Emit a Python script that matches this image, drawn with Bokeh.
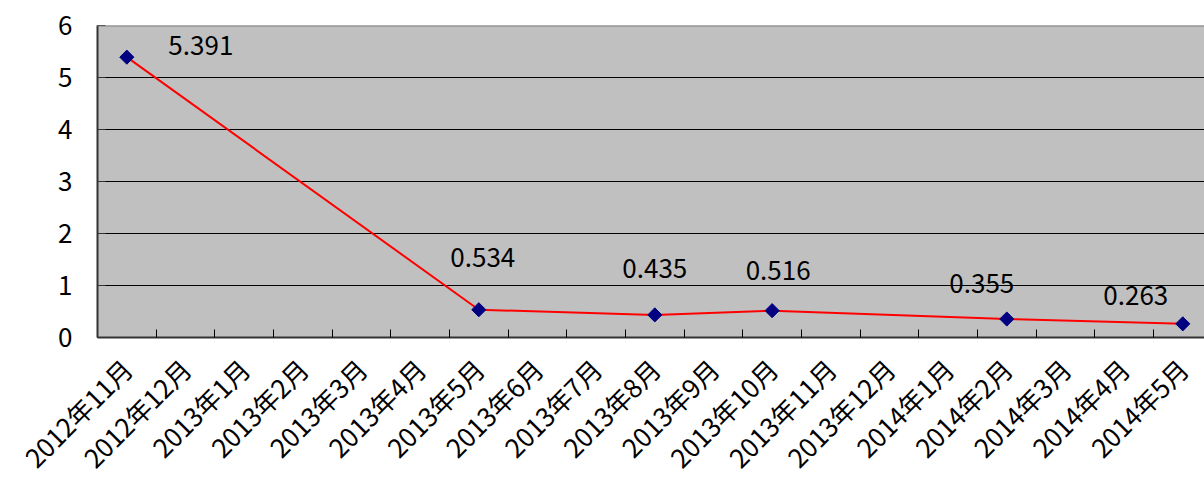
import math
from bokeh.plotting import figure
from bokeh.models import ColumnDataSource, Range1d, FixedTicker
from bokeh.core.properties import value
from bokeh.embed import file_html
from bokeh.resources import INLINE

months = ["2012年11月", "2012年12月", "2013年1月", "2013年2月", "2013年3月", "2013年4月",
          "2013年5月", "2013年6月", "2013年7月", "2013年8月", "2013年9月", "2013年10月",
          "2013年11月", "2013年12月", "2014年1月", "2014年2月", "2014年3月", "2014年4月",
          "2014年5月"]
data_months = ["2012年11月", "2013年5月", "2013年8月", "2013年10月", "2014年2月", "2014年5月"]
values = [5.391, 0.534, 0.435, 0.516, 0.355, 0.263]
y_ticks = [0, 1, 2, 3, 4, 5, 6]

# label placement offsets (screen pixels), styling only
label_dx = [74, 4, 0, 6, -25, -47]
label_dy = [-12, -52, -46, -40, -36, -28]

FONT = "Noto Sans CJK JP"

xs = [months.index(m) + 0.5 for m in data_months]
src = ColumnDataSource(dict(x=xs, y=values, lbl=[f"{v:.3f}" for v in values],
                            dx=label_dx, dy=label_dy))

p = figure(width=1204, height=490, output_backend="svg", toolbar_location=None,
           x_range=Range1d(0, 18.87), y_range=Range1d(0, 6),
           min_border_left=97, min_border_right=0, min_border_top=25, min_border_bottom=153)
p.background_fill_color = "#C0C0C0"
p.border_fill_color = "white"
p.outline_line_color = None

p.xgrid.visible = False
p.ygrid.ticker = FixedTicker(ticks=y_ticks[:-1])
p.ygrid.grid_line_color = "black"
p.ygrid.grid_line_width = 1

centers = [i + 0.5 for i in range(len(months))]
bounds = list(range(len(months) + 1))
p.xaxis.ticker = FixedTicker(ticks=centers, minor_ticks=bounds)
p.xaxis.major_label_overrides = {c: m for c, m in zip(centers, months)}
p.xaxis.major_tick_in = 0
p.xaxis.major_tick_out = 0
p.xaxis.minor_tick_in = 8
p.xaxis.minor_tick_out = 0
p.xaxis.minor_tick_line_color = "black"
p.xaxis.major_label_orientation = math.pi / 4
p.xaxis.major_label_standoff = 26

p.yaxis.ticker = FixedTicker(ticks=y_ticks)
p.yaxis.major_tick_in = 8
p.yaxis.major_tick_out = 0
p.yaxis.minor_tick_line_color = None
p.yaxis.major_label_standoff = 25

# top border of plot area (gray)
p.add_layout(__import__("bokeh.models", fromlist=["Span"]).Span(
    location=y_ticks[-1], dimension="width", line_color="#808080", line_width=2))

for ax in (p.xaxis, p.yaxis):
    ax.axis_line_color = "#333333"
    ax.axis_line_width = 2
    ax.major_tick_line_color = "#333333"
    ax.major_label_text_font = FONT
    ax.major_label_text_font_size = "26px"
    ax.major_label_text_color = "black"

p.line("x", "y", source=src, line_color="red", line_width=2)
p.scatter("x", "y", source=src, marker="square", angle=math.pi / 4, size=10,
          fill_color="#000080", line_color="#000080")
p.text("x", "y", text="lbl", source=src, x_offset="dx", y_offset="dy",
       text_align="center", text_baseline="middle", text_font=value(FONT),
       text_font_size="26px", text_color="black")

open("out.html", "w").write(file_html(p, INLINE))
